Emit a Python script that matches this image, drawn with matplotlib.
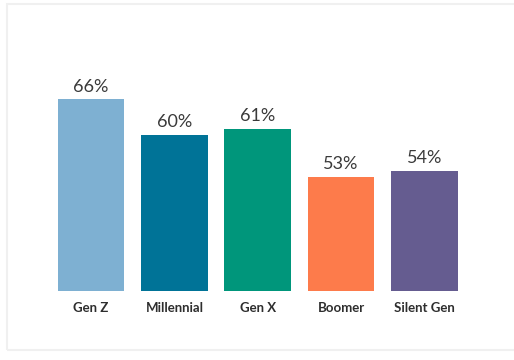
import matplotlib
matplotlib.use("Agg")
import matplotlib.pyplot as plt
from matplotlib.patches import Rectangle

# Share of each generation (percent)
generaciones = ["Gen Z", "Millennial", "Gen X", "Boomer", "Silent Gen"]
valores = [66, 60, 61, 53, 54]
colores = ["#7eb0d2", "#007397", "#00967b", "#fd7b4b", "#655c90"]

plt.rcParams["font.family"] = ["Lato", "DejaVu Sans"]

fig = plt.figure(figsize=(5.14, 3.60), dpi=100)
fig.patch.set_facecolor("white")

# marco gris claro alrededor del panel
fig.patches.append(Rectangle((0.014, 0.028), 1.0, 0.961, transform=fig.transFigure,
                             facecolor="none", edgecolor="#f0f0f0", linewidth=1.5))

ax = fig.add_axes([0.096, 0.192, 0.811, 0.697])
x = list(range(len(generaciones)))
ax.bar(x, valores, width=0.8, color=colores, bottom=0)
ax.set_ylim(33.8, 76)
ax.set_xlim(-0.5, 4.5)

for xi, v in zip(x, valores):
    ax.annotate(f"{v}%", (xi, v), xytext=(0, 3.5), textcoords="offset points",
                ha="center", va="bottom", fontsize=13, color="#3a3a3a")

ax.set_xticks(x)
ax.set_xticklabels(generaciones, fontsize=9.5, fontweight="bold", color="#2e2e2e")
ax.tick_params(axis="x", length=0, pad=8)
ax.set_yticks([])
for s in ax.spines.values():
    s.set_visible(False)

fig.savefig("out.png", dpi=100)
